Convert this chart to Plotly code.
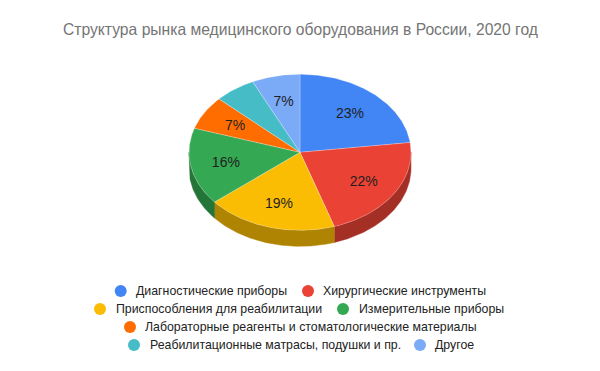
import math
import plotly.graph_objects as go

title = "Структура рынка медицинского оборудования в России, 2020 год"
categories = ["Диагностические приборы", "Хирургические инструменты", "Приспособления для реабилитации",
              "Измерительные приборы", "Лабораторные реагенты и стоматологические материалы",
              "Реабилитационные матрасы, подушки и пр.", "Другое"]
values = [23, 22, 19, 16, 7, 6, 7]
colors = ["#4285f4", "#ea4335", "#fbbc04", "#34a853", "#ff6d01", "#46bdc6", "#7baaf7"]
side_colors = ["#2e5dab", "#a42f25", "#b08403", "#247538", "#b34c01", "#31848b", "#5677ad"]

CX, CY, RX, RY, DEPTH = 300, 152.3, 111, 78, 16
LABEL_R = 0.68
LABEL_DY = 1.5
MIN_LABEL = 6.5

legend_rows = [
    (291, [(120.7, 135, 0), (308, 322, 1)]),
    (309, [(100, 115, 2), (343, 358, 3)]),
    (327, [(130, 144, 4)]),
    (345, [(134, 149, 5), (420, 434, 6)]),
]


def pt(a, dy=0):
    return CX + RX * math.sin(a), CY - RY * math.cos(a) + dy


def arc(a0, a1, dy=0):
    n = max(2, int(abs(a1 - a0) / 0.01))
    return [pt(a0 + (a1 - a0) * i / n, dy) for i in range(n + 1)]


fig = go.Figure()
total = sum(values)
spans = []
acc = 0
for v in values:
    spans.append((acc / total * 2 * math.pi, (acc + v) / total * 2 * math.pi))
    acc += v

# side walls (only the front half, pi/2 .. 3pi/2)
for (a0, a1), sc in zip(spans, side_colors):
    lo, hi = max(a0, math.pi / 2), min(a1, 3 * math.pi / 2)
    if lo >= hi:
        continue
    top = arc(lo, hi)
    bot = arc(hi, lo, DEPTH)
    p = top + bot + [top[0]]
    fig.add_trace(go.Scatter(x=[q[0] for q in p], y=[q[1] for q in p], mode="lines", fill="toself",
                             fillcolor=sc, line=dict(color=sc, width=0.5), hoverinfo="skip", showlegend=False))

# top faces
for (a0, a1), c in zip(spans, colors):
    p = [(CX, CY)] + arc(a0, a1) + [(CX, CY)]
    fig.add_trace(go.Scatter(x=[q[0] for q in p], y=[q[1] for q in p], mode="lines", fill="toself",
                             fillcolor=c, line=dict(color="rgba(255,255,255,0.35)", width=0.7),
                             hoverinfo="skip", showlegend=False))

# slice labels
lx, ly, lt = [], [], []
for (a0, a1), v in zip(spans, values):
    if v < MIN_LABEL:
        continue
    m = (a0 + a1) / 2
    lx.append(CX + RX * LABEL_R * math.sin(m))
    ly.append(CY - RY * LABEL_R * math.cos(m) + LABEL_DY)
    lt.append(f"{v}%")
fig.add_trace(go.Scatter(x=lx, y=ly, mode="text", text=lt, textposition="middle center",
                         textfont=dict(family="Liberation Sans", size=14, color="#1f1f1f"),
                         hoverinfo="skip", showlegend=False))

# legend
for y, items in legend_rows:
    for mx, tx, i in items:
        fig.add_trace(go.Scatter(x=[mx], y=[y], mode="markers",
                                 marker=dict(size=12, color=colors[i], line=dict(width=0)),
                                 hoverinfo="skip", showlegend=False))
        fig.add_annotation(x=tx, y=y, text=categories[i], xanchor="left", yanchor="middle", showarrow=False,
                           xshift=-1, font=dict(family="Liberation Sans", size=12.33, color="#222222"))

fig.add_annotation(x=300, y=29, text=title, xanchor="center", yanchor="middle", showarrow=False,
                   font=dict(family="Liberation Sans", size=15.67, color="#757575"))

fig.update_layout(width=600, height=371, margin=dict(l=0, r=0, t=0, b=0), paper_bgcolor="white",
                  plot_bgcolor="white", showlegend=False,
                  xaxis=dict(range=[0, 600], visible=False, fixedrange=True),
                  yaxis=dict(range=[371, 0], visible=False, fixedrange=True))
fig.write_html("out.html", config={"displayModeBar": False},
               post_script="document.body.style.margin='0';")
